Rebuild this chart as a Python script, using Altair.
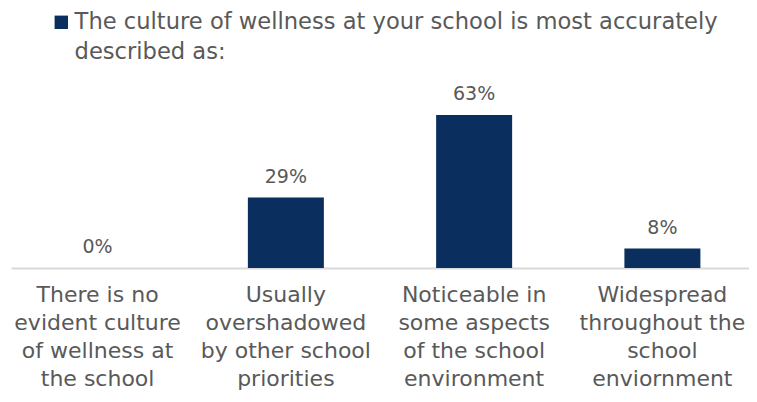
import altair as alt
import pandas as pd

categories = [
    "There is no|evident culture|of wellness at|the school",
    "Usually|overshadowed|by other school|priorities",
    "Noticeable in|some aspects|of the school|environment",
    "Widespread|throughout the|school|enviornment",
]
values = [0.0, 0.29, 0.63, 0.08]
series_name = "The culture of wellness at your school is most accurately|described as:"

NAVY = "#0A2F5E"
GRAY = "#595959"
FONT = "DejaVu Sans"

df = pd.DataFrame({"category": categories, "value": values, "series": series_name})
df["label"] = [f"{round(v*100)}%" for v in values]

x = alt.X(
    "category:N",
    sort=None,
    title=None,
    scale=alt.Scale(paddingInner=0.6, paddingOuter=0.26),
    axis=alt.Axis(
        labelAngle=0,
        labelExpr="split(datum.label, '|')",
        labelFontSize=22,
        labelColor=GRAY,
        labelFont=FONT,
        labelLineHeight=28,
        labelBaseline="top",
        labelPadding=16,
        labelLimit=0,
        ticks=False,
        domainColor="#D9D9D9",
        domainWidth=2,
    ),
)
y = alt.Y("value:Q", scale=alt.Scale(domain=[0, 0.7]), axis=None)

bars = alt.Chart(df).mark_bar(size=76).encode(
    x=x,
    y=y,
    color=alt.Color(
        "series:N",
        scale=alt.Scale(range=[NAVY]),
        legend=alt.Legend(
            title=None,
            orient="none",
            legendX=39,
            legendY=-87,
            padding=0,
            labelExpr="split(datum.label, '|')",
            labelFontSize=22.6,
            labelFont=FONT,
            labelColor=GRAY,
            labelLimit=0,
            symbolType="square",
            symbolSize=180,
            symbolStrokeWidth=0,
            symbolOffset=0,
            labelOffset=2,
        ),
    ),
)

labels = alt.Chart(df).mark_text(
    fontSize=19, font=FONT, color=GRAY, baseline="alphabetic", dy=-15
).encode(x=x, y=y, text="label:N")

chart = (
    alt.layer(bars, labels)
    .properties(
        width=738,
        height=170,
        autosize=alt.AutoSizeParams(type="none"),
        padding={"left": 3, "top": 90, "right": 0, "bottom": 126},
    )
    .configure(style={"guide-label": {"lineHeight": 30}})
    .configure_view(stroke=None)
)

chart.save("out.html", embed_options={"renderer": "svg", "actions": False})
